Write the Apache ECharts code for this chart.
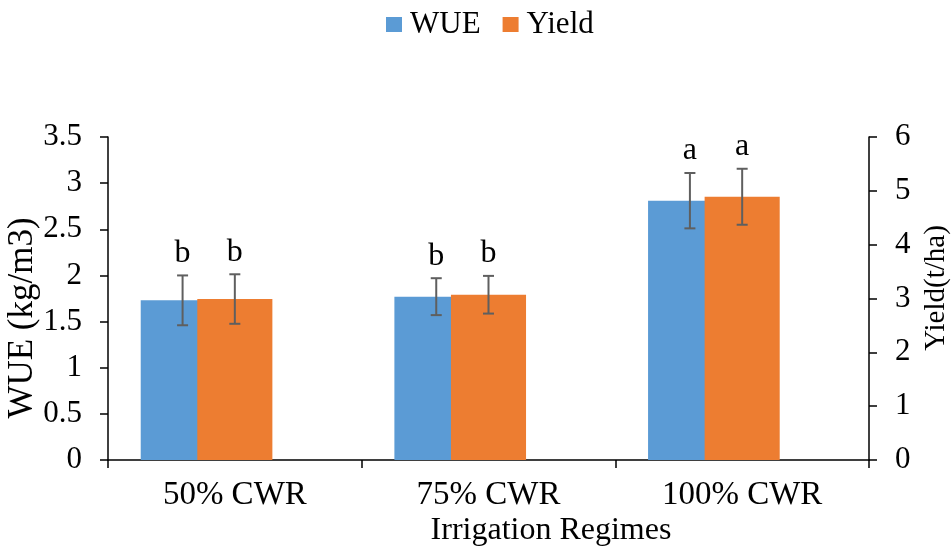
<!DOCTYPE html>
<html>
<head>
<meta charset="utf-8">
<script src="https://cdn.jsdelivr.net/npm/echarts@6/dist/echarts.min.js"></script>
<style>html,body{margin:0;padding:0;background:#fff}#c{width:952px;height:550px}</style>
</head>
<body>
<div id="c"></div>
<script>
var categories = ['50% CWR', '75% CWR', '100% CWR'];
var wue = [1.73, 1.77, 2.81];
var wueErr = [0.27, 0.20, 0.30];
var yieldVals = [2.99, 3.07, 4.89];
var yieldErr = [0.46, 0.35, 0.52];
var wueSig = ['b', 'b', 'a'];
var yieldSig = ['b', 'b', 'a'];
var leftTicks = {min: 0, max: 3.5, interval: 0.5};
var rightTicks = {min: 0, max: 6, interval: 1};

var FONT = 'Liberation Serif, Times New Roman, serif';
var BLUE = '#5B9BD5', ORANGE = '#ED7D31', ERR = '#5f5f5f';

var chart = echarts.init(document.getElementById('c'));

function errRender(offsetFrac, vals, errs, sig) {
  return function (params, api) {
    var i = api.value(0);
    var bw = api.size([1, 0])[0];
    var top = api.coord([i, vals[i] + errs[i]]);
    var bot = api.coord([i, vals[i] - errs[i]]);
    var x = top[0] + offsetFrac * bw;
    var cap = 5.5;
    var st = {stroke: ERR, lineWidth: 2};
    return {
      type: 'group',
      children: [
        {type: 'line', shape: {x1: x, y1: top[1], x2: x, y2: bot[1]}, style: st},
        {type: 'line', shape: {x1: x - cap, y1: top[1], x2: x + cap, y2: top[1]}, style: st},
        {type: 'line', shape: {x1: x - cap, y1: bot[1], x2: x + cap, y2: bot[1]}, style: st},
        {type: 'text', x: x, y: top[1] - 6, style: {text: sig[i], font: '32px ' + FONT, fill: '#000', textAlign: 'center', textVerticalAlign: 'bottom'}}
      ]
    };
  };
}

var option = {
  animation: false,
  backgroundColor: '#fff',
  legend: {
    data: ['WUE', 'Yield'],
    left: 381, top: 4,
    itemWidth: 16, itemHeight: 15, itemGap: 22,
    icon: 'rect',
    textStyle: {fontFamily: FONT, fontSize: 31, color: '#000', padding: [0, 0, 0, 3]}
  },
  grid: {left: 108, right: 83, top: 137, bottom: 90},
  xAxis: {
    type: 'category', data: categories,
    axisLine: {lineStyle: {color: '#000', width: 1.5}},
    axisTick: {show: true, length: 8, lineStyle: {color: '#000', width: 1.5}},
    axisLabel: {fontFamily: FONT, fontSize: 33, color: '#000', margin: 19}
  },
  yAxis: [{
    type: 'value', min: leftTicks.min, max: leftTicks.max, interval: leftTicks.interval,
    splitLine: {show: false},
    axisLine: {show: true, lineStyle: {color: '#000', width: 1.5}},
    axisTick: {show: true, length: 8, lineStyle: {color: '#000', width: 1.5}},
    axisLabel: {fontFamily: FONT, fontSize: 31, color: '#000', margin: 26}
  }, {
    type: 'value', min: rightTicks.min, max: rightTicks.max, interval: rightTicks.interval,
    position: 'right',
    splitLine: {show: false},
    axisLine: {show: true, lineStyle: {color: '#000', width: 1.5}},
    axisTick: {show: true, length: 8, lineStyle: {color: '#000', width: 1.5}},
    axisLabel: {fontFamily: FONT, fontSize: 31, color: '#000', margin: 26}
  }],
  graphic: [
    {type: 'text', x: 23, y: 318, rotation: Math.PI / 2, style: {text: 'WUE (kg/m3)', font: '35px ' + FONT, fill: '#000', textAlign: 'center', textVerticalAlign: 'middle'}},
    {type: 'text', x: 936, y: 288, rotation: Math.PI / 2, style: {text: 'Yield(t/ha)', font: '29px ' + FONT, fill: '#000', textAlign: 'center', textVerticalAlign: 'middle'}},
    {type: 'text', x: 551, y: 531, style: {text: 'Irrigation Regimes', font: '32px ' + FONT, fill: '#000', textAlign: 'center', textVerticalAlign: 'middle'}}
  ],
  series: [
    {
      name: 'WUE', type: 'custom', yAxisIndex: 0, z: 2,
      itemStyle: {color: BLUE},
      encode: {x: 0, y: 1},
      data: wue.map(function (v, i) { return [i, v]; }),
      renderItem: function (params, api) {
        var i = api.value(0);
        var bw = api.size([1, 0])[0];
        var p = api.coord([i, api.value(1)]);
        var b = api.coord([i, 0]);
        return {type: 'rect', shape: {x: p[0] - 0.371 * bw, y: p[1], width: 0.331 * bw, height: b[1] - p[1]}, style: {fill: BLUE}};
      }
    },
    {
      name: 'Yield', type: 'bar', yAxisIndex: 1, z: 3,
      barWidth: '29.6%',
      itemStyle: {color: ORANGE},
      data: yieldVals
    },
    {
      name: 'wueErr', type: 'custom', yAxisIndex: 0, z: 5, silent: true,
      data: wue.map(function (v, i) { return [i, v]; }),
      renderItem: errRender(-0.206, wue, wueErr, wueSig)
    },
    {
      name: 'yieldErr', type: 'custom', yAxisIndex: 1, z: 5, silent: true,
      data: yieldVals.map(function (v, i) { return [i, v]; }),
      renderItem: errRender(0, yieldVals, yieldErr, yieldSig)
    }
  ]
};
chart.setOption(option);
</script>
</body>
</html>
